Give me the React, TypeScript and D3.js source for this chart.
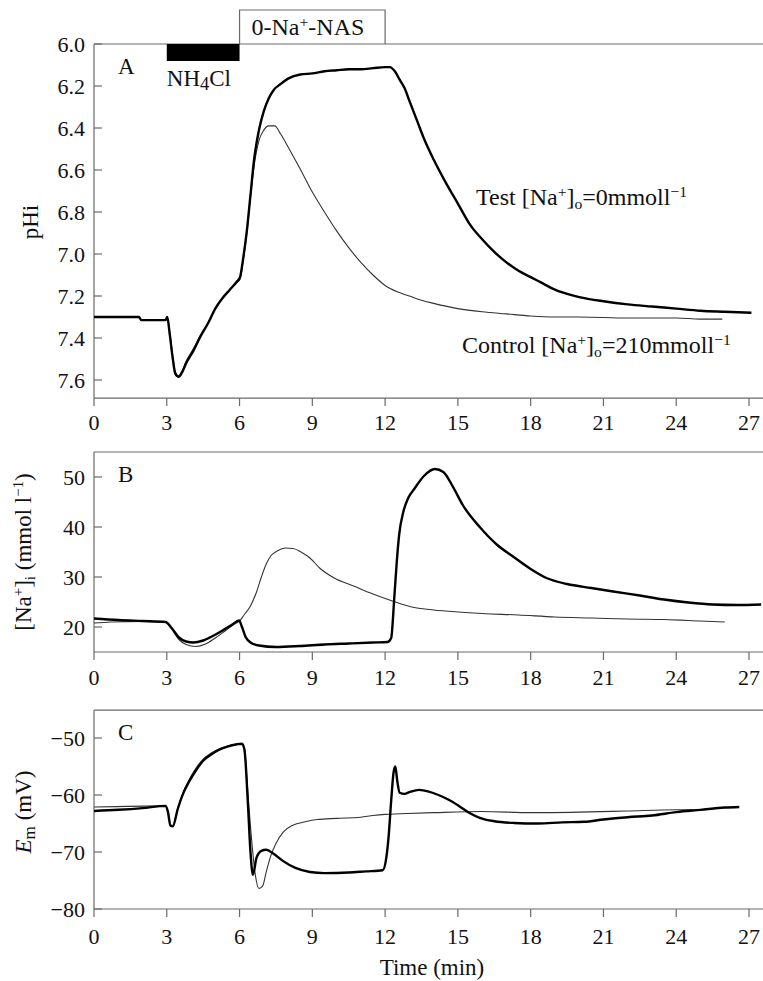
import React from "react";
import * as d3 from "d3";

// ---------- Data ----------
const timeTicks = [0, 3, 6, 9, 12, 15, 18, 21, 24, 27];
const pHTicks = [6.0, 6.2, 6.4, 6.6, 6.8, 7.0, 7.2, 7.4, 7.6];
const naTicks = [20, 30, 40, 50];
const emTicks = [-80, -70, -60, -50];

// Panel A: pHi
const tA_test = [0, 1.85, 1.95, 2.95, 3.02, 3.12, 3.25, 3.35, 3.5, 3.6, 3.8, 4.1, 4.4, 4.7, 5.0, 5.3, 5.6, 5.9, 6.02, 6.15, 6.3, 6.45, 6.6, 6.8, 7.0, 7.2, 7.4, 7.7, 8.0, 8.5, 9.0, 9.5, 10, 10.5, 11, 11.5, 12.0, 12.2, 12.4, 12.6, 12.8, 13.0, 13.3, 13.6, 14.0, 14.5, 15.0, 15.5, 16, 16.5, 17, 17.5, 18, 18.5, 19, 19.5, 20, 21, 22, 23, 24, 25, 26, 27.1];
const pH_test = [7.30, 7.30, 7.315, 7.315, 7.30, 7.38, 7.50, 7.57, 7.585, 7.57, 7.52, 7.46, 7.39, 7.33, 7.26, 7.21, 7.17, 7.13, 7.11, 7.02, 6.89, 6.72, 6.55, 6.41, 6.32, 6.26, 6.22, 6.19, 6.165, 6.145, 6.14, 6.13, 6.125, 6.12, 6.12, 6.115, 6.11, 6.11, 6.13, 6.17, 6.21, 6.27, 6.36, 6.45, 6.55, 6.66, 6.76, 6.86, 6.93, 6.99, 7.04, 7.08, 7.11, 7.14, 7.17, 7.19, 7.205, 7.225, 7.24, 7.25, 7.26, 7.27, 7.275, 7.28];
const tA_ctrl = [0, 1.85, 1.95, 2.95, 3.02, 3.12, 3.25, 3.35, 3.5, 3.6, 3.8, 4.1, 4.4, 4.7, 5.0, 5.3, 5.6, 5.9, 6.02, 6.15, 6.3, 6.45, 6.6, 6.8, 7.0, 7.2, 7.45, 7.7, 8.0, 8.5, 9.0, 9.5, 10, 10.5, 11, 11.5, 12, 12.5, 13, 13.5, 14, 15, 16, 17, 18, 19, 20, 22, 24, 25, 25.9];
const pH_ctrl = [7.30, 7.30, 7.315, 7.315, 7.30, 7.37, 7.49, 7.56, 7.58, 7.565, 7.51, 7.45, 7.385, 7.33, 7.26, 7.21, 7.17, 7.135, 7.12, 7.03, 6.90, 6.73, 6.58, 6.46, 6.41, 6.39, 6.39, 6.43, 6.49, 6.595, 6.705, 6.8, 6.89, 6.97, 7.04, 7.1, 7.15, 7.18, 7.2, 7.22, 7.235, 7.26, 7.275, 7.285, 7.295, 7.3, 7.3, 7.305, 7.305, 7.31, 7.31];

// Panel B: [Na+]i
const tB_test = [0, 1, 2, 2.95, 3.2, 3.5, 3.8, 4.1, 4.5, 4.9, 5.3, 5.7, 5.98, 6.1, 6.25, 6.45, 6.8, 7.5, 8.5, 9.5, 10.5, 11.5, 12.1, 12.25, 12.38, 12.48, 12.58, 12.75, 12.95, 13.2, 13.6, 14.05, 14.4, 14.8, 15.2, 15.9, 16.6, 17.3, 18.0, 18.65, 19.5, 20.5, 21.4, 22.5, 23.5, 24.5, 25.5, 26.5, 27.5];
const na_test = [21.7, 21.4, 21.2, 21.0, 19.8, 17.9, 17.1, 16.9, 17.3, 18.2, 19.3, 20.5, 21.3, 20.0, 18.0, 16.9, 16.3, 16.0, 16.2, 16.5, 16.7, 16.9, 17.0, 17.8, 26.0, 33.0, 38.5, 43.0, 45.8, 47.6, 50.2, 51.6, 51.0, 48.0, 44.4, 40.0, 36.5, 34.0, 31.6, 29.8, 28.6, 27.8, 27.1, 26.3, 25.5, 24.9, 24.5, 24.4, 24.5];
const tB_ctrl = [0, 0.7, 2, 2.95, 3.2, 3.5, 3.8, 4.2, 4.6, 5.0, 5.4, 5.8, 6.0, 6.2, 6.45, 6.7, 6.9, 7.1, 7.3, 7.55, 7.9, 8.2, 8.6, 8.9, 9.3, 9.9, 10.7, 11.5, 12.3, 13.2, 14.0, 15, 16, 17.5, 19, 20.5, 22, 23.5, 25, 26];
const na_ctrl = [20.8, 21.0, 21.1, 21.0, 19.6, 17.5, 16.5, 16.1, 16.6, 17.8, 19.2, 20.6, 21.2, 22.5, 24.2, 27.0, 30.0, 32.6, 34.3, 35.2, 35.8, 35.7, 34.8, 33.8, 31.8, 29.8, 28.2, 26.6, 25.2, 23.9, 23.4, 23.0, 22.7, 22.4, 22.0, 21.8, 21.6, 21.5, 21.2, 21.0];

// Panel C: Em
const tC_test = [0, 1, 2, 2.95, 3.05, 3.15, 3.25, 3.45, 3.7, 3.9, 4.2, 4.5, 4.8, 5.1, 5.5, 5.9, 6.1, 6.2, 6.35, 6.45, 6.55, 6.7, 6.9, 7.1, 7.4, 7.8, 8.3, 8.9, 9.5, 10.5, 11.2, 11.9, 12.05, 12.15, 12.25, 12.35, 12.42, 12.5, 12.6, 12.8, 13.0, 13.4, 13.8, 14.2, 14.6, 15.0, 15.5, 15.9, 16.5, 17.3, 18.3, 19.3, 20.2, 21, 22, 23, 24, 25, 26, 26.6];
const em_test = [-62.8, -62.6, -62.3, -61.9, -63, -65.4, -65.5, -62.5, -59.5, -57.8, -55.7, -54.0, -53.0, -52.2, -51.5, -51.1, -51.0, -52, -62, -70, -74, -71, -69.8, -69.6, -70.3, -71.6, -72.8, -73.5, -73.7, -73.6, -73.4, -73.2, -71, -67, -61, -56, -55, -57.5, -59.6, -59.8, -59.5, -59.1, -59.4, -60, -60.8, -61.8, -63.2, -64, -64.6, -64.9, -65, -64.8, -64.7, -64.3, -63.9, -63.6, -63, -62.6, -62.2, -62.1];
const tC_ctrl = [0, 2.95, 3.05, 3.15, 3.25, 3.45, 3.7, 3.9, 4.2, 4.5, 4.8, 5.1, 5.5, 5.9, 6.1, 6.2, 6.35, 6.5, 6.65, 6.8, 6.95, 7.1, 7.3, 7.5, 7.8, 8.2, 8.7, 9.2, 10, 11, 11.5, 12, 12.6, 14, 16, 18, 20, 22, 24, 24.7];
const em_ctrl = [-62.1, -61.9, -63, -65.2, -65.3, -62.3, -59.3, -57.5, -55.3, -53.7, -52.7, -52, -51.4, -51.1, -51.0, -52, -60, -68, -74, -76.4, -76, -73.5, -70.5, -68.5, -66.5, -65.3, -64.7, -64.3, -64.1, -63.9, -63.6, -63.4, -63.3, -63.1, -62.9, -63.1, -63.0, -62.8, -62.6, -62.6];

// ---------- Layout ----------
const W = 763;
const H = 981;
const FONT = "Liberation Serif";
const FRAME = "#6a6a6a";

const x = d3.scaleLinear().domain([0, 27]).range([94, 749]);
const xRight = x(27.6);

const yA = d3.scaleLinear().domain([6.0, 7.6]).range([44, 380]);
const yB = d3.scaleLinear().domain([20, 50]).range([627, 477]);
const yC = d3.scaleLinear().domain([-80, -50]).range([909, 738]);

const panels = [
  { key: "A", y: yA, top: 6.0, bottom: 7.686, ticks: pHTicks, fmt: (v: number) => v.toFixed(1), labelBase: 430 },
  { key: "B", y: yB, top: 55, bottom: 15, ticks: naTicks, fmt: (v: number) => String(v), labelBase: 685 },
  { key: "C", y: yC, top: -45.1, bottom: -80, ticks: emTicks, fmt: (v: number) => (v < 0 ? "\u2212" + Math.abs(v) : String(v)), labelBase: 944 },
];

function pathFor(ts: number[], vs: number[], y: d3.ScaleLinear<number, number>) {
  const pts: [number, number][] = ts.map((t, i) => [t, vs[i]]);
  return d3
    .line<[number, number]>()
    .x((d) => x(d[0]))
    .y((d) => y(d[1]))
    .curve(d3.curveMonotoneX)(pts) as string;
}

const txt = { fontFamily: FONT, fill: "#111" };

export default function App() {
  const fs = 22;
  const fl = 23;
  const fsr = 24;
  return (
    <svg
      width={W}
      height={H}
      viewBox={`0 0 ${W} ${H}`}
      style={{ position: "absolute", left: 0, top: 0, background: "#fff", fontFamily: FONT }}
    >
      <rect x={0} y={0} width={W} height={H} fill="#fff" />
      {panels.map((p) => {
        const yTop = p.y(p.top);
        const yBot = p.y(p.bottom);
        return (
          <g key={p.key}>
            <line x1={x(0)} x2={xRight} y1={yTop} y2={yTop} stroke={FRAME} strokeWidth={1.2} />
            <line x1={x(0)} x2={xRight} y1={yBot} y2={yBot} stroke={FRAME} strokeWidth={1.2} />
            <line x1={x(0)} x2={x(0)} y1={yTop} y2={yBot} stroke={FRAME} strokeWidth={1.2} />
            {p.ticks.map((v) => (
              <g key={v}>
                <line x1={x(0)} x2={x(0) + 8} y1={p.y(v)} y2={p.y(v)} stroke={FRAME} strokeWidth={1.2} />
                <text x={x(0) - 9} y={p.y(v)} dy="0.35em" textAnchor="end" fontSize={fs} style={txt}>
                  {p.fmt(v)}
                </text>
              </g>
            ))}
            {timeTicks.map((t) => (
              <g key={t}>
                <line x1={x(t)} x2={x(t)} y1={yBot} y2={yBot + 8} stroke={FRAME} strokeWidth={1.2} />
                <text x={x(t)} y={p.labelBase} textAnchor="middle" fontSize={fs} style={txt}>
                  {t}
                </text>
              </g>
            ))}
            <text x={118} y={yTop + 30} fontSize={fl} style={txt}>
              {p.key}
            </text>
          </g>
        );
      })}

      <path d={pathFor(tA_ctrl, pH_ctrl, yA)} fill="none" stroke="#333" strokeWidth={1.1} />
      <path d={pathFor(tA_test, pH_test, yA)} fill="none" stroke="#000" strokeWidth={2.4} />
      <path d={pathFor(tB_ctrl, na_ctrl, yB)} fill="none" stroke="#333" strokeWidth={1.1} />
      <path d={pathFor(tB_test, na_test, yB)} fill="none" stroke="#000" strokeWidth={2.4} />
      <path d={pathFor(tC_ctrl, em_ctrl, yC)} fill="none" stroke="#333" strokeWidth={1.1} />
      <path d={pathFor(tC_test, em_test, yC)} fill="none" stroke="#000" strokeWidth={2.4} />

      <rect x={x(3)} y={yA(6.0)} width={x(6) - x(3)} height={17} fill="#000" />
      <text x={x(3)} y={86} fontSize={fl} style={txt}>
        NH<tspan dy={4} fontSize={fl * 0.8}>4</tspan>
        <tspan dy={-4}>Cl</tspan>
      </text>
      <path d={`M${x(6)},${yA(6.0)} V10 H${x(12)} V${yA(6.0)}`} fill="none" stroke={FRAME} strokeWidth={1.2} />
      <text x={x(6) + 12} y={35} fontSize={fsr} style={txt}>
        0-Na<tspan dy={-8} fontSize={fsr * 0.65}>+</tspan>
        <tspan dy={8}>-NAS</tspan>
      </text>

      <text x={476} y={205} fontSize={fsr} style={txt}>
        Test [Na<tspan dy={-8} fontSize={fsr * 0.65}>+</tspan>
        <tspan dy={8}>]</tspan>
        <tspan dy={4} fontSize={fsr * 0.65}>o</tspan>
        <tspan dy={-4}>=0mmoll</tspan>
        <tspan dy={-8} fontSize={fsr * 0.65}>{"\u22121"}</tspan>
      </text>
      <text x={462} y={353} fontSize={fsr} style={txt}>
        Control [Na<tspan dy={-8} fontSize={fsr * 0.65}>+</tspan>
        <tspan dy={8}>]</tspan>
        <tspan dy={4} fontSize={fsr * 0.65}>o</tspan>
        <tspan dy={-4}>=210mmoll</tspan>
        <tspan dy={-8} fontSize={fsr * 0.65}>{"\u22121"}</tspan>
      </text>

      <text transform="translate(38,222) rotate(-90)" textAnchor="middle" fontSize={fl} style={txt}>
        pHi
      </text>
      <text transform="translate(31,552) rotate(-90)" textAnchor="middle" fontSize={fl} style={txt}>
        [Na<tspan dy={-8} fontSize={fl * 0.65}>+</tspan>
        <tspan dy={8}>]</tspan>
        <tspan dy={4} fontSize={fl * 0.65}>i</tspan>
        <tspan dy={-4}> (mmol l</tspan>
        <tspan dy={-8} fontSize={fl * 0.65}>{"\u22121"}</tspan>
        <tspan dy={8}>)</tspan>
      </text>
      <text transform="translate(31,812) rotate(-90)" textAnchor="middle" fontSize={fl} style={txt}>
        <tspan fontStyle="italic">E</tspan>
        <tspan dy={4} fontSize={fl * 0.75}>m</tspan>
        <tspan dy={-4}> (mV)</tspan>
      </text>

      <text x={432} y={975} textAnchor="middle" fontSize={fl} style={txt}>
        Time (min)
      </text>
    </svg>
  );
}
